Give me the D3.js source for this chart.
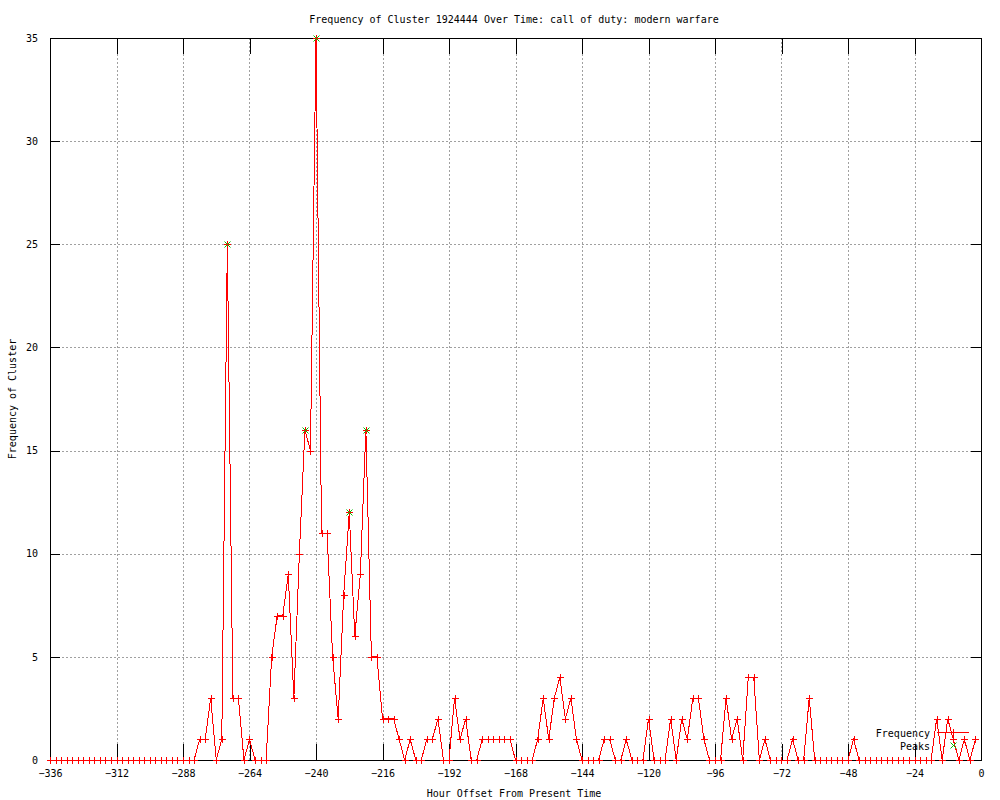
<!DOCTYPE html>
<html>
<head>
<meta charset="utf-8">
<script src="https://cdn.jsdelivr.net/npm/d3@7"></script>
<style>
  html, body { margin: 0; padding: 0; background: #fff; }
  svg { display: block; }
</style>
</head>
<body>
<svg id="chart" width="1000" height="800"></svg>
<script>
// ---- data ----
const hours = d3.range(-336, 0, 2); // hour offsets, one sample every 2 hours
const frequency = [
  0,0,0,0,0,0,0,0,0,0,
  0,0,0,0,0,0,0,0,0,0,
  0,0,0,0,0,0,0,1,1,3,
  0,1,25,3,3,0,1,0,0,0,
  5,7,7,9,3,10,16,15,35,11,
  11,5,2,8,12,6,9,16,5,5,
  2,2,2,1,0,1,0,0,1,1,
  2,0,0,3,1,2,0,0,1,1,
  1,1,1,1,0,0,0,0,1,3,
  1,3,4,2,3,1,0,0,0,0,
  1,1,0,0,1,0,0,0,2,0,
  0,0,2,0,2,1,3,3,1,0,
  0,0,3,1,2,0,4,4,0,1,
  0,0,0,0,1,0,0,3,0,0,
  0,0,0,0,0,1,0,0,0,0,
  0,0,0,0,0,0,0,0,0,0,
  2,0,2,1,0,1,0,1
];
const peakHours = [-272, -244, -240, -228, -222];
const peakValues = [25, 16, 35, 12, 16];
const xTicks = [-336,-312,-288,-264,-240,-216,-192,-168,-144,-120,-96,-72,-48,-24,0];
const yTicks = [0,5,10,15,20,25,30,35];
const seriesNames = ["Frequency", "Peaks"];
const titleText = "Frequency of Cluster 1924444 Over Time: call of duty: modern warfare";
const xLabelText = "Hour Offset From Present Time";
const yLabelText = "Frequency of Cluster";

// ---- layout ----
const L = 50, R = 981, T = 38, B = 760;
const FONT = "'DejaVu Sans Mono', 'Liberation Mono', monospace";
const svg = d3.select("#chart");
svg.append("rect").attr("width", 1000).attr("height", 800).attr("fill", "#fff");

const x = d3.scaleLinear().domain([-336, 0]).range([L, R]);
const y = d3.scaleLinear().domain([0, 35]).range([B, T]);

const data = hours.map((h, i) => ({h, v: frequency[i]}));
const peaks = peakHours.map((h, i) => ({h, v: peakValues[i]}));

// grid
const grid = svg.append("g").attr("stroke", "#a0a0a0").attr("stroke-dasharray", "2,2")
  .attr("shape-rendering", "crispEdges");
grid.selectAll(".gx").data(xTicks.filter(t => t !== -336 && t !== 0)).enter().append("line")
  .attr("x1", d => Math.round(x(d)) + 0.5).attr("x2", d => Math.round(x(d)) + 0.5)
  .attr("y1", T).attr("y2", B);
grid.selectAll(".gy").data(yTicks.filter(t => t !== 0 && t !== 35)).enter().append("line")
  .attr("y1", d => Math.round(y(d)) + 0.5).attr("y2", d => Math.round(y(d)) + 0.5)
  .attr("x1", L).attr("x2", R);

// axes
function styleAxis(g) {
  g.attr("font-family", FONT).attr("font-size", 10);
  g.select(".domain").remove();
  g.selectAll(".tick line").attr("stroke", "#000").attr("shape-rendering", "crispEdges");
  g.selectAll(".tick text").attr("fill", "#000");
}
svg.append("g").attr("transform", `translate(0,${B})`)
  .call(d3.axisBottom(x).tickValues(xTicks).tickSize(-16).tickSizeOuter(0).tickPadding(10).tickFormat(d3.format("d")))
  .call(styleAxis);
svg.append("g").attr("transform", `translate(0,${T})`)
  .call(d3.axisTop(x).tickValues(xTicks).tickSize(-16).tickSizeOuter(0).tickFormat(""))
  .call(styleAxis);
svg.append("g").attr("transform", `translate(${L},0)`)
  .call(d3.axisLeft(y).tickValues(yTicks).tickSize(-10).tickSizeOuter(0).tickPadding(12).tickFormat(d3.format("d")))
  .call(styleAxis);
svg.append("g").attr("transform", `translate(${R},0)`)
  .call(d3.axisRight(y).tickValues(yTicks).tickSize(-10).tickSizeOuter(0).tickFormat(""))
  .call(styleAxis);

// frame
svg.append("rect").attr("x", L + 0.5).attr("y", T + 0.5).attr("width", R - L).attr("height", B - T)
  .attr("fill", "none").attr("stroke", "#000").attr("shape-rendering", "crispEdges");

// data line
const line = d3.line().x(d => x(d.h)).y(d => y(d.v));
svg.append("path").datum(data).attr("d", line).attr("fill", "none")
  .attr("stroke", "#ff0000").attr("stroke-width", 1).attr("shape-rendering", "crispEdges");

const plusPath = (cx, cy) => `M${cx - 3.5},${cy}h7M${cx},${cy - 3.5}v7`;
const crossPath = (cx, cy) => `M${cx - 3},${cy - 3}l6,6M${cx - 3},${cy + 3}l6,-6`;

svg.append("g").selectAll("path").data(data).enter().append("path")
  .attr("d", d => plusPath(Math.round(x(d.h)) + 0.5, Math.round(y(d.v)) + 0.5))
  .attr("stroke", "#ff0000").attr("fill", "none").attr("shape-rendering", "crispEdges");

svg.append("g").selectAll("path").data(peaks).enter().append("path")
  .attr("d", d => crossPath(Math.round(x(d.h)) + 0.5, Math.round(y(d.v)) + 0.5))
  .attr("stroke", "#00c000").attr("fill", "none");

// legend
const lg = svg.append("g").attr("font-family", FONT).attr("font-size", 10);
lg.append("text").attr("x", 930).attr("y", 733).attr("dy", "0.35em").attr("text-anchor", "end").text(seriesNames[0]);
lg.append("text").attr("x", 930).attr("y", 746).attr("dy", "0.35em").attr("text-anchor", "end").text(seriesNames[1]);
lg.append("line").attr("x1", 937).attr("x2", 969).attr("y1", 732.5).attr("y2", 732.5)
  .attr("stroke", "#ff0000").attr("shape-rendering", "crispEdges");
lg.append("path").attr("d", plusPath(953.5, 732.5)).attr("stroke", "#ff0000").attr("shape-rendering", "crispEdges");
lg.append("path").attr("d", crossPath(953.5, 745.5)).attr("stroke", "#00c000");

// titles
svg.append("text").attr("x", 514).attr("y", 19).attr("dy", "0.35em").attr("text-anchor", "middle")
  .attr("font-family", FONT).attr("font-size", 10).text(titleText);
svg.append("text").attr("x", 514).attr("y", 793).attr("dy", "0.35em").attr("text-anchor", "middle")
  .attr("font-family", FONT).attr("font-size", 10).text(xLabelText);
svg.append("text").attr("transform", "translate(12,399) rotate(-90)").attr("dy", "0.35em")
  .attr("text-anchor", "middle").attr("font-family", FONT).attr("font-size", 10).text(yLabelText);
</script>
</body>
</html>
